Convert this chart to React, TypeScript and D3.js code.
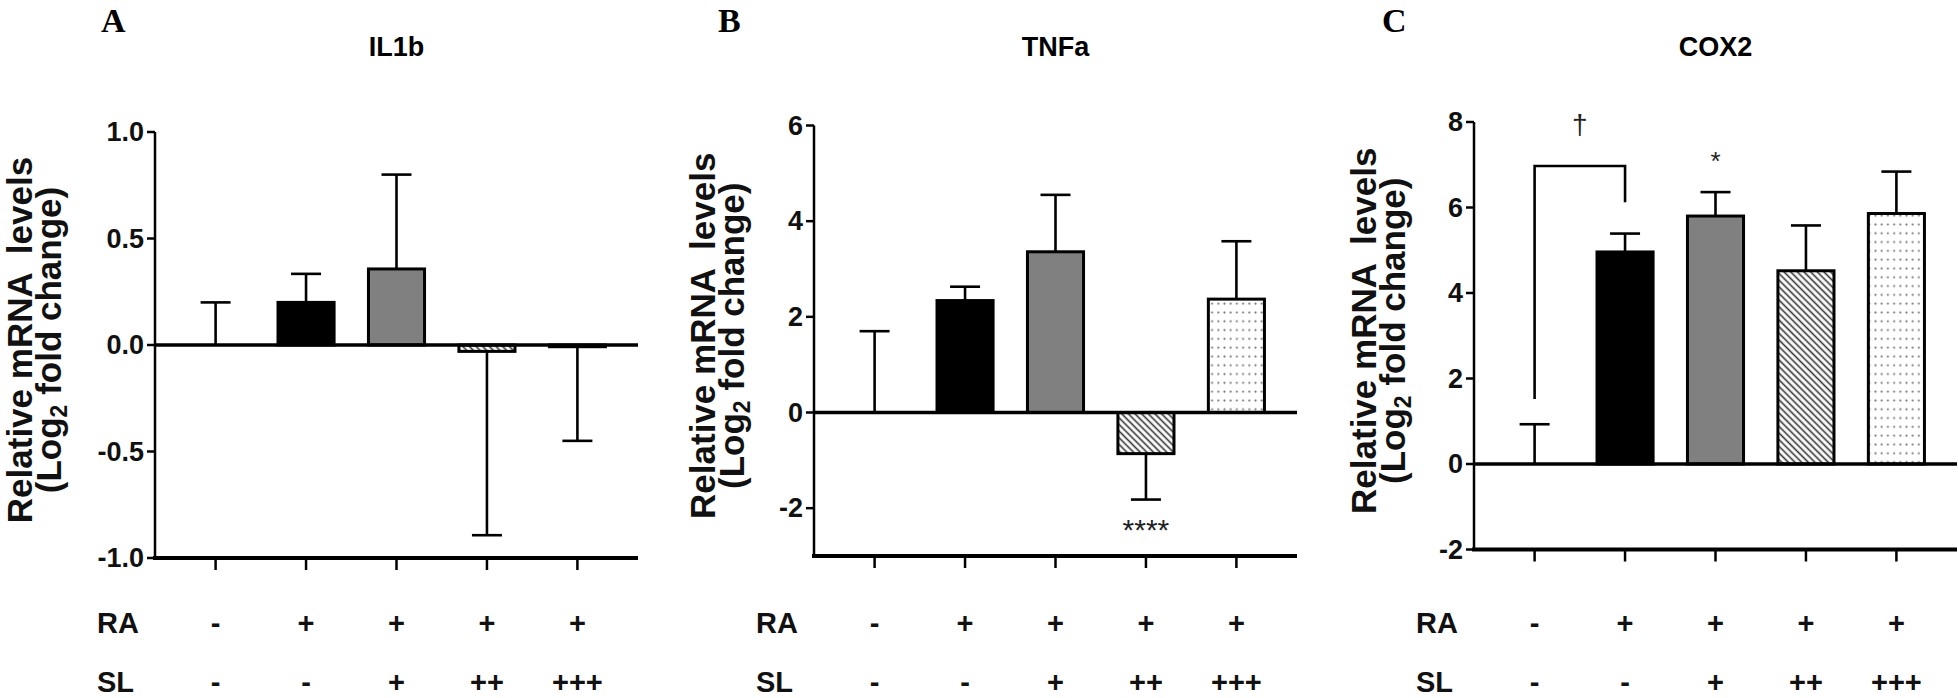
import * as d3 from 'd3';

// treatment groups (x categories) and the RA / SL table under each panel
const groups = ['Control', 'RA', 'RA+SL', 'RA+SL++', 'RA+SL+++'];
const raRow = ['-', '+', '+', '+', '+'];
const slRow = ['-', '-', '+', '++', '+++'];

// A: IL1b
const il1bMean = [0, 0.2, 0.357, -0.03, -0.008];
const il1bSem = [0.2, 0.134, 0.443, 0.863, 0.442];
const il1bTicks = [-1, -0.5, 0, 0.5, 1];

// B: TNFa
const tnfaMean = [0, 2.34, 3.36, -0.86, 2.37];
const tnfaSem = [1.7, 0.29, 1.19, 0.96, 1.21];
const tnfaTicks = [-2, 0, 2, 4, 6];
const tnfaStars = ['', '', '', '****', ''];
const tnfaStarLevel = -2.31;

// C: COX2
const cox2Mean = [0, 4.96, 5.8, 4.52, 5.86];
const cox2Sem = [0.93, 0.43, 0.56, 1.06, 0.98];
const cox2Ticks = [-2, 0, 2, 4, 6, 8];
const cox2Stars = ['', '', '*', '', ''];
const cox2StarLevel = 7.23;
const cox2Bracket = [1.52, 6.97, 6.12]; // left foot, top, right foot
const cox2DaggerLevel = 7.93;

const W = 1958;
const H = 698;
const plotW = 483;
const sans = '"Liberation Sans", Arial, Helvetica, sans-serif';
const serif = '"Liberation Serif", "Times New Roman", serif';

// GraphPad prints a plain hyphen for negatives
const fmt1 = (v: number) => d3.format('.1f')(v).replace('\u2212', '-');
const fmt0 = (v: number) => d3.format('d')(v).replace('\u2212', '-');

type Panel = {
  letter: string;
  title: string;
  mean: number[];
  sem: number[];
  domain: [number, number];
  ticks: number[];
  fmt: (v: number) => string;
  axisX: number;
  yTop: number;
  yBottom: number;
  letterX: number;
  titleOffset: number;
};

const panels: Panel[] = [
  {
    letter: 'A', title: 'IL1b', mean: il1bMean, sem: il1bSem, domain: [-1, 1],
    ticks: il1bTicks, fmt: fmt1, axisX: 155, yTop: 132, yBottom: 558,
    letterX: 101, titleOffset: -123,
  },
  {
    letter: 'B', title: 'TNFa', mean: tnfaMean, sem: tnfaSem, domain: [-3, 6],
    ticks: tnfaTicks, fmt: fmt0, axisX: 814, yTop: 125.5, yBottom: 556,
    letterX: 718, titleOffset: -99,
  },
  {
    letter: 'C', title: 'COX2', mean: cox2Mean, sem: cox2Sem, domain: [-2, 8],
    ticks: cox2Ticks, fmt: fmt0, axisX: 1474, yTop: 122, yBottom: 549.5,
    letterX: 1382, titleOffset: -98,
  },
];

const fills = ['none', '#000', '#808080', 'url(#hatch)', 'url(#dots)'];

function ChartPanel({ p }: { p: Panel }) {
  const x = d3
    .scalePoint<string>()
    .domain(groups)
    .range([p.axisX, p.axisX + plotW])
    .padding(0.67);
  const y = d3.scaleLinear().domain(p.domain).range([p.yBottom, p.yTop]);
  const bw = x.step() * 0.62;
  const cap = 30;
  const cx = p.axisX + plotW / 2;
  const titleY = (p.yTop + p.yBottom) / 2 - 5;

  return (
    <g>
      <text x={p.letterX} y={32} fontFamily={serif} fontWeight="bold" fontSize={34}>
        {p.letter}
      </text>
      <text x={cx} y={56} textAnchor="middle" fontFamily={sans} fontWeight="bold" fontSize={27}>
        {p.title}
      </text>

      {/* y title */}
      <g fontFamily={sans} fontWeight="bold" fontSize={35} fill="#111">
        <text
          transform={`translate(${p.axisX + p.titleOffset},${titleY}) rotate(-90)`}
          textAnchor="middle"
          xmlSpace="preserve"
        >
          Relative mRNA  levels
        </text>
        <text
          transform={`translate(${p.axisX + p.titleOffset + 29},${titleY}) rotate(-90)`}
          textAnchor="middle"
        >
          (Log
          <tspan fontSize={23} dy={6}>2</tspan>
          <tspan dy={-6}> fold change)</tspan>
        </text>
      </g>

      {/* bars */}
      {groups.map((g, i) => {
        if (i === 0) return null;
        const v = p.mean[i];
        const y0 = y(0);
        const y1 = y(v);
        return (
          <rect
            key={g}
            x={(x(g) ?? 0) - bw / 2}
            y={Math.min(y0, y1)}
            width={bw}
            height={Math.abs(y1 - y0)}
            fill={fills[i]}
            stroke="#000"
            strokeWidth={3}
          />
        );
      })}

      {/* error bars */}
      {groups.map((g, i) => {
        const v = p.mean[i];
        const end = v >= 0 ? v + p.sem[i] : v - p.sem[i];
        const gx = x(g) ?? 0;
        return (
          <g key={g} stroke="#000" strokeWidth={2.6}>
            <line x1={gx} x2={gx} y1={y(v)} y2={y(end)} />
            <line x1={gx - cap / 2} x2={gx + cap / 2} y1={y(end)} y2={y(end)} />
          </g>
        );
      })}

      {/* axes */}
      <line x1={p.axisX} x2={p.axisX} y1={p.yTop} y2={p.yBottom} stroke="#000" strokeWidth={2.5} />
      <line x1={p.axisX} x2={p.axisX + plotW} y1={y(0)} y2={y(0)} stroke="#000" strokeWidth={3.5} />
      <line
        x1={p.axisX - 2}
        x2={p.axisX + plotW}
        y1={p.yBottom}
        y2={p.yBottom}
        stroke="#000"
        strokeWidth={4}
      />
      {p.ticks.map((t) => (
        <g key={t}>
          <line x1={p.axisX - 8} x2={p.axisX} y1={y(t)} y2={y(t)} stroke="#000" strokeWidth={2.5} />
          <text
            x={p.axisX - 11}
            y={y(t)}
            textAnchor="end"
            dominantBaseline="central"
            fontFamily={sans}
            fontWeight="bold"
            fontSize={27}
            fill="#111"
          >
            {p.fmt(t)}
          </text>
        </g>
      ))}
      {groups.map((g) => (
        <line
          key={g}
          x1={x(g)}
          x2={x(g)}
          y1={p.yBottom}
          y2={p.yBottom + 12}
          stroke="#000"
          strokeWidth={2.5}
        />
      ))}

      {/* RA / SL table */}
      <g fontFamily={sans} fontWeight="bold" fontSize={29} fill="#111">
        <text x={p.axisX - 58} y={633}>RA</text>
        <text x={p.axisX - 58} y={692}>SL</text>
        {groups.map((g, i) => (
          <g key={g} textAnchor="middle">
            <text x={x(g)} y={633}>{raRow[i]}</text>
            <text x={x(g)} y={692}>{slRow[i]}</text>
          </g>
        ))}
      </g>

      {p.letter === 'B' &&
        groups.map((g, i) =>
          tnfaStars[i] ? (
            <text
              key={g}
              x={x(g)}
              y={y(tnfaStarLevel) + 17}
              textAnchor="middle"
              fontFamily={sans}
              fontSize={30}
              fill="#222"
            >
              {tnfaStars[i]}
            </text>
          ) : null,
        )}

      {p.letter === 'C' && (
        <g>
          <path
            d={`M${x(groups[0])},${y(cox2Bracket[0])}V${y(cox2Bracket[1])}H${x(groups[1])}V${y(cox2Bracket[2])}`}
            fill="none"
            stroke="#000"
            strokeWidth={2.6}
          />
          <text
            x={((x(groups[0]) ?? 0) + (x(groups[1]) ?? 0)) / 2}
            y={y(cox2DaggerLevel) + 9}
            textAnchor="middle"
            fontFamily={sans}
            fontSize={28}
            fill="#222"
          >
            †
          </text>
          {groups.map((g, i) =>
            cox2Stars[i] ? (
              <text
                key={g}
                x={x(g)}
                y={y(cox2StarLevel) + 15}
                textAnchor="middle"
                fontFamily={sans}
                fontSize={26}
                fill="#222"
              >
                {cox2Stars[i]}
              </text>
            ) : null,
          )}
        </g>
      )}
    </g>
  );
}

export default function App() {
  return (
    <svg
      width={W}
      height={H}
      viewBox={`0 0 ${W} ${H}`}
      style={{ position: 'absolute', left: 0, top: 0, background: '#fff' }}
    >
      <defs>
        <pattern
          id="hatch"
          patternUnits="userSpaceOnUse"
          width={4.7}
          height={4.7}
          patternTransform="rotate(-45)"
        >
          <rect width={4.7} height={4.7} fill="#fff" />
          <line x1={2.35} x2={2.35} y1={0} y2={4.7} stroke="#333" strokeWidth={1.6} />
        </pattern>
        <pattern id="dots" patternUnits="userSpaceOnUse" width={6.2} height={8.8}>
          <rect width={6.2} height={8.8} fill="#fff" />
          <circle cx={3.1} cy={4.4} r={1.1} fill="#777" />
        </pattern>
      </defs>
      <rect width={W} height={H} fill="#fff" />
      {panels.map((p) => (
        <ChartPanel key={p.letter} p={p} />
      ))}
    </svg>
  );
}
